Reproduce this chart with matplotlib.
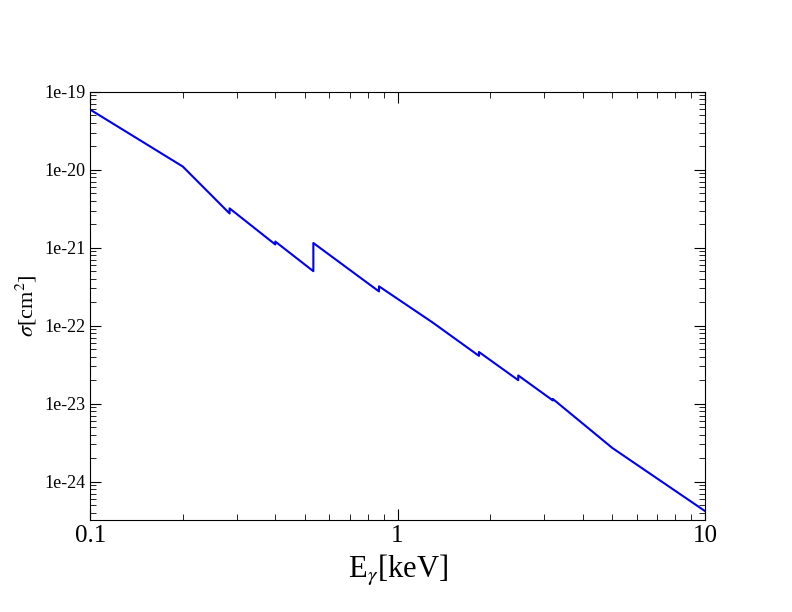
import matplotlib
matplotlib.use("Agg")
import matplotlib.pyplot as plt
from matplotlib.ticker import FixedLocator, LogLocator, NullFormatter

energy_kev = [0.1, 0.2, 0.284, 0.284, 0.40, 0.40, 0.532, 0.532, 0.87, 0.87,
              1.3, 1.84, 1.84, 2.47, 2.47, 3.2, 3.2, 5.0, 10.0]
sigma_cm2 = [5.9e-20, 1.1e-20, 2.75e-21, 3.2e-21, 1.1e-21, 1.2e-21, 5.0e-22, 1.15e-21,
             2.75e-22, 3.2e-22, 1.1e-22, 4.1e-23, 4.6e-23, 2.0e-23, 2.3e-23,
             1.1e-23, 1.15e-23, 2.7e-24, 4.2e-25]
xticks = [0.1, 1, 10]
xticklabels = ["0.1", "1", "10"]
yticks = [1e-24, 1e-23, 1e-22, 1e-21, 1e-20, 1e-19]
yticklabels = ["1e-24", "1e-23", "1e-22", "1e-21", "1e-20", "1e-19"]

plt.rcParams["font.family"] = "Liberation Serif"
plt.rcParams["mathtext.fontset"] = "stix"
fig = plt.figure(figsize=(7.92, 6.12), dpi=100)
ax = fig.add_axes([0.114, 0.150, 0.776, 0.700])
ax.plot(energy_kev, sigma_cm2, color="#0000ee", lw=1.5)
ax.set_xscale("log"); ax.set_yscale("log")
ax.set_xlim(0.1, 10); ax.set_ylim(3.2e-25, 1e-19)
ax.xaxis.set_major_locator(FixedLocator(xticks))
ax.set_xticklabels(xticklabels, fontsize=18)
ax.yaxis.set_major_locator(FixedLocator(yticks))
ax.set_yticklabels(yticklabels, fontsize=13)
ax.xaxis.set_minor_locator(LogLocator(base=10, subs=range(2, 10)))
ax.yaxis.set_minor_locator(LogLocator(base=10, subs=range(2, 10)))
ax.xaxis.set_minor_formatter(NullFormatter()); ax.yaxis.set_minor_formatter(NullFormatter())
ax.tick_params(which="both", direction="in", top=True, right=True)
ax.tick_params(which="major", length=8)
ax.tick_params(which="minor", length=4)
ax.set_xlabel(r"E$_\gamma$[keV]", fontsize=22)
ax.set_ylabel(r"$\sigma$[cm$^2$]", fontsize=16)
fig.savefig("out.png")
